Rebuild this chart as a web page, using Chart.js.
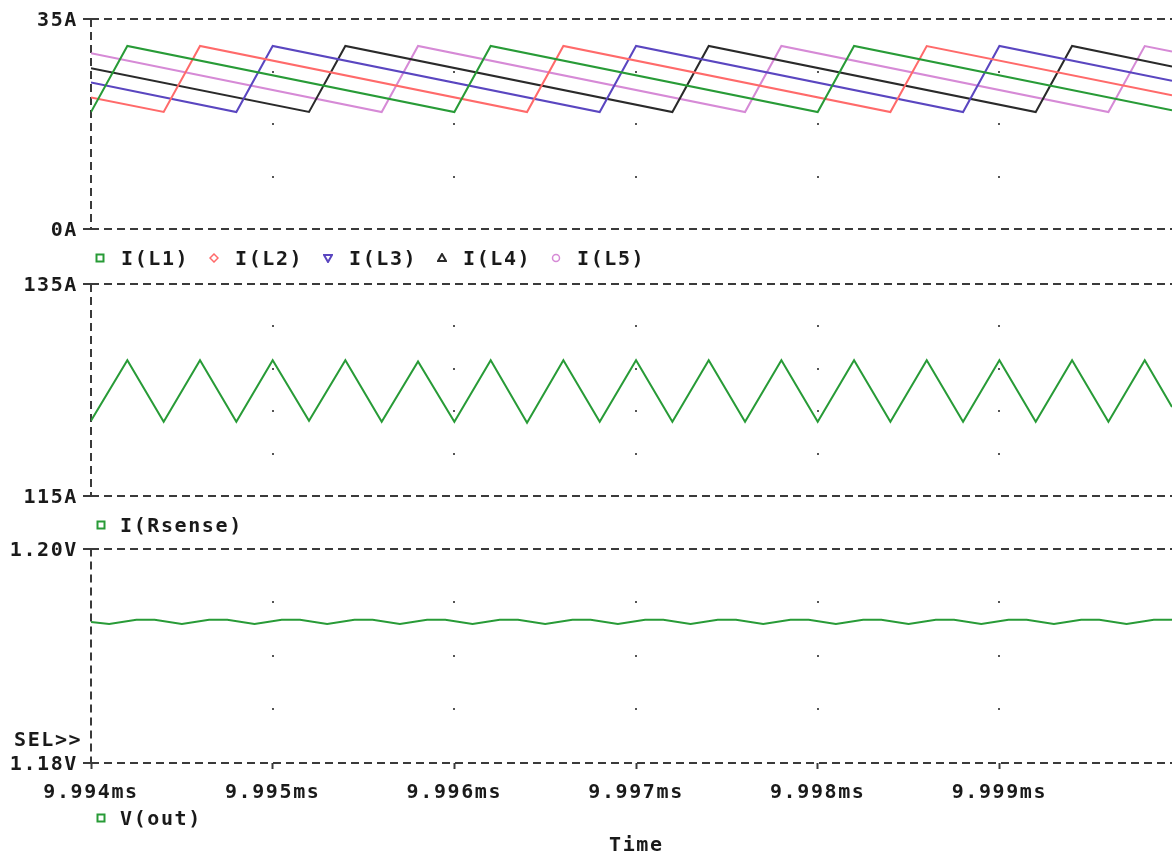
<!DOCTYPE html>
<html lang="en">
<head>
<meta charset="UTF-8">
<title>Multiphase buck - inductor currents</title>
<script src="https://cdn.jsdelivr.net/npm/chart.js@4.4.1/dist/chart.umd.min.js"></script>
<style>
    html, body { margin: 0; padding: 0; background: #fff; overflow: hidden; }
    #page { position: relative; width: 1172px; height: 854px; }
    canvas { position: absolute; left: 0; }
    .txt { position: absolute; z-index: 2; font: bold 20px 'DejaVu Sans Mono', monospace; letter-spacing: 1.6px;
           line-height: 20px; color: #1a1a1a; white-space: pre; }
    .mk { position: absolute; z-index: 2; }
</style>
</head>
<body>
<div id="page">
    <canvas id="c1" width="1172" height="250" style="top:0"></canvas>
    <canvas id="c2" width="1172" height="262" style="top:258px"></canvas>
    <canvas id="c3" width="1172" height="334" style="top:520px"></canvas>

    <!-- legend row under the inductor panel -->
    <svg class="mk" style="left:95px;top:253px" width="10" height="10"><rect x="1.5" y="1.5" width="7" height="7" fill="none" stroke="#289b37" stroke-width="2"/></svg>
    <div class="txt" style="left:121px;top:248px">I(L1)</div>
    <svg class="mk" style="left:209px;top:253px" width="10" height="10"><polygon points="5,1 9,5 5,9 1,5" fill="none" stroke="#ff6a6a" stroke-width="1.5"/></svg>
    <div class="txt" style="left:235px;top:248px">I(L2)</div>
    <svg class="mk" style="left:323px;top:253px" width="10" height="10"><polygon points="1,2 9,2 5,9" fill="none" stroke="#5a46c0" stroke-width="2"/></svg>
    <div class="txt" style="left:349px;top:248px">I(L3)</div>
    <svg class="mk" style="left:437px;top:253px" width="10" height="10"><polygon points="5,1 9,8 1,8" fill="none" stroke="#2a2a2a" stroke-width="2"/></svg>
    <div class="txt" style="left:463px;top:248px">I(L4)</div>
    <svg class="mk" style="left:551px;top:253px" width="10" height="10"><circle cx="5" cy="5" r="3.5" fill="none" stroke="#d68ad6" stroke-width="1.5"/></svg>
    <div class="txt" style="left:577px;top:248px">I(L5)</div>

    <svg class="mk" style="left:96px;top:520px" width="10" height="10"><rect x="1.5" y="1.5" width="7" height="7" fill="none" stroke="#289b37" stroke-width="2"/></svg>
    <div class="txt" style="left:120px;top:515px">I(Rsense)</div>

    <div class="txt" style="left:14px;top:729px">SEL&gt;&gt;</div>

    <svg class="mk" style="left:96px;top:813px" width="10" height="10"><rect x="1.5" y="1.5" width="7" height="7" fill="none" stroke="#289b37" stroke-width="2"/></svg>
    <div class="txt" style="left:120px;top:808px">V(out)</div>

    <div class="txt" style="left:609px;top:834px">Time</div>
</div>

<script>
    // time axis, ms
    const tMin = 9.994;
    const tMax = 9.99995;
    const tickTimes = [9.994, 9.995, 9.996, 9.997, 9.998, 9.999];
    const tickLabels = ['9.994ms', '9.995ms', '9.996ms', '9.997ms', '9.998ms', '9.999ms'];

    // phase currents I(L1)..I(L5), corners of each sawtooth
    const l1Time = [9.9940, 9.9942, 9.9960, 9.9962, 9.9980, 9.9982, 9.99995];
    const l1Amp  = [19.5, 30.5, 19.5, 30.5, 19.5, 30.5, 19.8];
    const l2Time = [9.9940, 9.9944, 9.9946, 9.9964, 9.9966, 9.9984, 9.9986, 9.99995];
    const l2Amp  = [21.9, 19.5, 30.5, 19.5, 30.5, 19.5, 30.5, 22.3];
    const l3Time = [9.9940, 9.9948, 9.9950, 9.9968, 9.9970, 9.9988, 9.9990, 9.99995];
    const l3Amp  = [24.4, 19.5, 30.5, 19.5, 30.5, 19.5, 30.5, 24.7];
    const l4Time = [9.9940, 9.9952, 9.9954, 9.9972, 9.9974, 9.9992, 9.9994, 9.99995];
    const l4Amp  = [26.8, 19.5, 30.5, 19.5, 30.5, 19.5, 30.5, 27.1];
    const l5Time = [9.9940, 9.9956, 9.9958, 9.9976, 9.9978, 9.9996, 9.9998, 9.99995];
    const l5Amp  = [29.3, 19.5, 30.5, 19.5, 30.5, 19.5, 30.5, 29.6];

    // I(Rsense), total current
    const rsTime = [9.9940, 9.9942, 9.9944, 9.9946, 9.9948, 9.9950, 9.9952, 9.9954, 9.9956, 9.9958,
                    9.9960, 9.9962, 9.9964, 9.9966, 9.9968, 9.9970, 9.9972, 9.9974, 9.9976, 9.9978,
                    9.9980, 9.9982, 9.9984, 9.9986, 9.9988, 9.9990, 9.9992, 9.9994, 9.9996, 9.9998, 9.99995];
    const rsAmp  = [122.1, 127.8, 122.0, 127.8, 122.0, 127.8, 122.1, 127.8, 122.0, 127.7,
                    122.0, 127.8, 121.9, 127.8, 122.0, 127.8, 122.0, 127.8, 122.0, 127.8,
                    122.0, 127.8, 122.0, 127.8, 122.0, 127.8, 122.0, 127.8, 122.0, 127.8, 123.4];

    // V(out)
    const voTime = [9.99400,
                    9.99410, 9.99425, 9.99435, 9.99450, 9.99465, 9.99475, 9.99490, 9.99505, 9.99515,
                    9.99530, 9.99545, 9.99555, 9.99570, 9.99585, 9.99595, 9.99610, 9.99625, 9.99635,
                    9.99650, 9.99665, 9.99675, 9.99690, 9.99705, 9.99715, 9.99730, 9.99745, 9.99755,
                    9.99770, 9.99785, 9.99795, 9.99810, 9.99825, 9.99835, 9.99850, 9.99865, 9.99875,
                    9.99890, 9.99905, 9.99915, 9.99930, 9.99945, 9.99955, 9.99970, 9.99985, 9.99995];
    const voVolt = [1.19315,
                    1.19295, 1.19335, 1.19335, 1.19295, 1.19335, 1.19335, 1.19295, 1.19335, 1.19335,
                    1.19295, 1.19335, 1.19335, 1.19295, 1.19335, 1.19335, 1.19295, 1.19335, 1.19335,
                    1.19295, 1.19335, 1.19335, 1.19295, 1.19335, 1.19335, 1.19295, 1.19335, 1.19335,
                    1.19295, 1.19335, 1.19335, 1.19295, 1.19335, 1.19335, 1.19295, 1.19335, 1.19335,
                    1.19295, 1.19335, 1.19335, 1.19295, 1.19335, 1.19335, 1.19295, 1.19335, 1.19335];

    // inner grid levels (drawn as dots like the probe window)
    const topDots = [8.75, 17.5, 26.25];
    const midDots = [119, 123, 127, 131];
    const botDots = [1.185, 1.19, 1.195];

    const ink = '#3a3a3a';
    const monoFont = { family: "'DejaVu Sans Mono', monospace", size: 20, weight: 'bold' };

    function pts(times, vals) {
        return times.map((t, i) => ({ x: t, y: vals[i] }));
    }

    function trace(times, vals, color) {
        return { data: pts(times, vals), borderColor: color, borderWidth: 2, pointRadius: 0, tension: 0, fill: false };
    }

    // dotted inner grid + dashed left axis, probe style
    const gridDots = {
        id: 'gridDots',
        beforeDraw(chart) {
            chart.ctx.letterSpacing = '1.6px';
        },
        beforeDatasetsDraw(chart, args, opts) {
            const { ctx, chartArea, scales: { x, y } } = chart;
            ctx.save();
            ctx.fillStyle = '#555';
            tickTimes.slice(1).forEach(t => {
                const px = Math.round(x.getPixelForValue(t));
                opts.values.forEach(v => {
                    ctx.fillRect(px - 1, Math.round(y.getPixelForValue(v)) - 1, 2, 2);
                });
            });
            const ax = Math.round(x.getPixelForValue(tMin));
            ctx.strokeStyle = ink;
            ctx.lineWidth = 2;
            ctx.setLineDash([8, 5]);
            ctx.beginPath();
            ctx.moveTo(ax, chartArea.top);
            ctx.lineTo(ax, chartArea.bottom);
            ctx.stroke();
            ctx.restore();
        }
    };

    function makePanel(id, datasets, yMin, yMax, yLabels, dots, pad, showTime) {
        new Chart(document.getElementById(id), {
            type: 'line',
            data: { datasets: datasets },
            plugins: [gridDots],
            options: {
                responsive: false,
                animation: false,
                devicePixelRatio: 1,
                layout: { padding: pad },
                plugins: {
                    legend: { display: false },
                    tooltip: { enabled: false },
                    gridDots: { values: dots }
                },
                scales: {
                    x: {
                        type: 'linear', min: tMin, max: tMax,
                        display: showTime,
                        afterFit: s => { if (showTime) s.height = 91; },
                        afterBuildTicks: s => { s.ticks = tickTimes.map(v => ({ value: v })); },
                        ticks: {
                            autoSkip: false, maxRotation: 0, padding: 12,
                            callback: (v, i) => tickLabels[i],
                            font: monoFont, color: '#1a1a1a'
                        },
                        grid: { drawOnChartArea: false, drawTicks: true, tickLength: 6, tickColor: ink, tickWidth: 2 },
                        border: { display: false }
                    },
                    y: {
                        min: yMin, max: yMax,
                        afterFit: s => { s.width = 91; },
                        afterBuildTicks: s => { s.ticks = [{ value: yMin }, { value: yMax }]; },
                        ticks: { callback: (v, i) => yLabels[i], font: monoFont, color: '#1a1a1a', padding: 5, labelOffset: 2 },
                        grid: { color: ink, lineWidth: 2, drawTicks: true, tickLength: 8, tickColor: ink },
                        border: { display: false, dash: [8, 5] }
                    }
                }
            }
        });
    }

    makePanel('c1', [
        trace(l1Time, l1Amp, '#289b37'),
        trace(l2Time, l2Amp, '#ff6a6a'),
        trace(l3Time, l3Amp, '#5a46c0'),
        trace(l4Time, l4Amp, '#2a2a2a'),
        trace(l5Time, l5Amp, '#d68ad6')
    ], 0, 35, ['0A', '35A'], topDots, { top: 19, bottom: 21, left: 0, right: 0 }, false);

    makePanel('c2', [
        trace(rsTime, rsAmp, '#289b37')
    ], 115, 135, ['115A', '135A'], midDots, { top: 26, bottom: 24, left: 0, right: 0 }, false);

    makePanel('c3', [
        trace(voTime, voVolt, '#289b37')
    ], 1.18, 1.20, ['1.18V', '1.20V'], botDots, { top: 28.5, bottom: 0, left: 0, right: 0 }, true);
</script>
</body>
</html>
